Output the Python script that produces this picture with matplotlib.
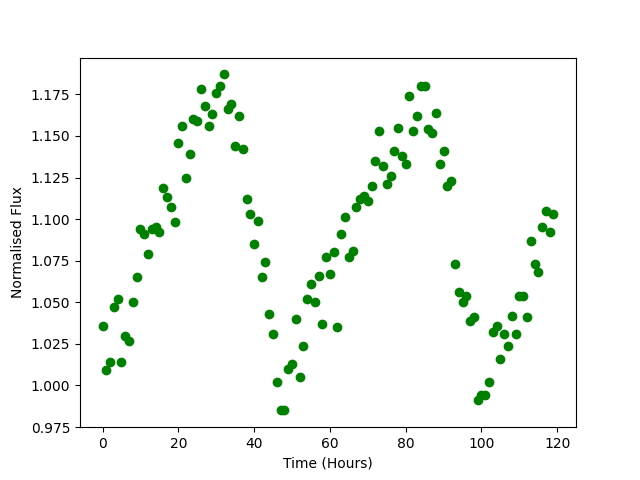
import matplotlib
matplotlib.use("Agg")
import matplotlib.pyplot as plt
import numpy as np

# hourly samples
hours = np.arange(120)
flux = [
    1.036, 1.009, 1.014, 1.047, 1.052, 1.014, 1.030, 1.027, 1.050, 1.065,
    1.094, 1.091, 1.079, 1.094, 1.095, 1.092, 1.119, 1.113, 1.107, 1.098,
    1.146, 1.156, 1.125, 1.139, 1.160, 1.159, 1.178, 1.168, 1.156, 1.163,
    1.176, 1.180, 1.187, 1.166, 1.169, 1.144, 1.162, 1.142, 1.112, 1.103,
    1.085, 1.099, 1.065, 1.074, 1.043, 1.031, 1.002, 0.985, 0.985, 1.010,
    1.013, 1.040, 1.005, 1.024, 1.052, 1.061, 1.050, 1.066, 1.037, 1.077,
    1.067, 1.080, 1.035, 1.091, 1.101, 1.077, 1.081, 1.107, 1.112, 1.114,
    1.111, 1.120, 1.135, 1.153, 1.132, 1.121, 1.126, 1.141, 1.155, 1.138,
    1.133, 1.174, 1.153, 1.162, 1.180, 1.180, 1.154, 1.152, 1.164, 1.133,
    1.141, 1.120, 1.123, 1.073, 1.056, 1.050, 1.054, 1.039, 1.041, 0.991,
    0.994, 0.994, 1.002, 1.032, 1.036, 1.016, 1.031, 1.024, 1.042, 1.031,
    1.054, 1.054, 1.041, 1.087, 1.073, 1.068, 1.095, 1.105, 1.092, 1.103,
]

fig = plt.figure(figsize=(6.4, 4.8), dpi=100)
plt.plot(hours, flux, 'go')
plt.xlabel('Time (Hours)')
plt.ylabel('Normalised Flux')
plt.savefig('out.png', dpi=100)
